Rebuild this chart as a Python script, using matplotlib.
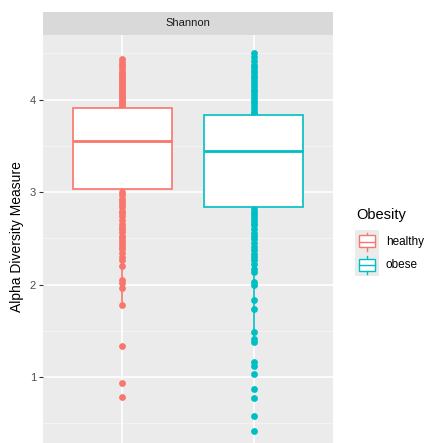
import matplotlib.pyplot as plt
from matplotlib.patches import Rectangle

# groups and colours
groups = ["healthy", "obese"]
colors = ["#F8766D", "#00BFC4"]

# box statistics (Shannon index)
q1 = [3.03, 2.84]
med = [3.555, 3.45]
q3 = [3.91, 3.83]
whislo = [1.78, 1.38]
whishi = [4.44, 4.51]

# individual samples
healthy_vals = [3.92, 3.94, 3.96, 3.98, 4.00, 4.02, 4.04, 4.06, 4.08, 4.10,
                4.12, 4.14, 4.16, 4.18, 4.20, 4.22, 4.24, 4.26, 4.28, 4.30,
                4.33, 4.36, 4.38, 4.41, 4.44,
                3.00, 2.97, 2.93, 2.90, 2.87, 2.84, 2.80, 2.77, 2.74, 2.70,
                2.66, 2.62, 2.60, 2.57, 2.53, 2.50, 2.47, 2.44, 2.41, 2.38,
                2.34, 2.30, 2.27, 2.20, 2.05, 2.02, 1.96, 1.78,
                1.34, 0.93, 0.78]
obese_vals = [3.85, 3.87, 3.90, 3.93, 3.96, 3.99, 4.02, 4.05, 4.08, 4.11,
              4.14, 4.17, 4.20, 4.23, 4.26, 4.29, 4.32, 4.35, 4.38, 4.42,
              4.46, 4.51,
              2.82, 2.79, 2.76, 2.73, 2.70, 2.67, 2.64, 2.60, 2.56, 2.52,
              2.49, 2.45, 2.41, 2.37, 2.33, 2.30, 2.26, 2.22, 2.17, 2.13,
              2.03, 2.00, 1.83, 1.74, 1.49, 1.41, 1.38,
              1.16, 1.12, 1.03, 0.87, 0.77, 0.58, 0.42]
values = [healthy_vals, obese_vals]

yticks = [1, 2, 3, 4]
minor_ticks = [0.5, 1.5, 2.5, 3.5, 4.5]

W, H = 424, 443
fig = plt.figure(figsize=(W / 100, H / 100), dpi=100)
plt.rcParams['font.family'] = ['Liberation Sans', 'DejaVu Sans']

# panel
ax = fig.add_axes([43 / W, 0, 290 / W, (H - 35) / H])
ax.set_facecolor("#EBEBEB")
for y in minor_ticks:
    ax.axhline(y, color="#F5F5F5", lw=0.6, zorder=0)
for y in yticks:
    ax.axhline(y, color="white", lw=1.2, zorder=0)
for x in [1, 2]:
    ax.axvline(x, color="white", lw=1.2, zorder=0)

for i, (vals, c) in enumerate(zip(values, colors)):
    ax.scatter([i + 1] * len(vals), vals, s=24, color=c, linewidths=0, zorder=2)

stats = []
for i in range(2):
    stats.append(dict(q1=q1[i], med=med[i], q3=q3[i],
                      whislo=whislo[i], whishi=whishi[i], fliers=[]))
bp = ax.bxp(stats, positions=[1, 2], widths=0.75, patch_artist=True,
            showcaps=False, showfliers=False, zorder=3)
for i, c in enumerate(colors):
    bp['boxes'][i].set(facecolor="white", edgecolor=c, linewidth=1.2)
    bp['medians'][i].set(color=c, linewidth=2.0)
    for w in bp['whiskers'][2 * i:2 * i + 2]:
        w.set(color=c, linewidth=1.2)

ax.set_xlim(0.4, 2.6)
ax.set_ylim(0.285, 4.70)
ax.set_yticks(yticks)
ax.set_xticks([])
ax.tick_params(axis='y', length=3, width=0.8, color="#333333",
               labelcolor="#4D4D4D", labelsize=8, pad=2)
for s in ax.spines.values():
    s.set_visible(False)

# facet strip
sax = fig.add_axes([43 / W, 1 - 35 / H, 290 / W, 23 / H])
sax.set_facecolor("#D9D9D9")
sax.set_xticks([])
sax.set_yticks([])
for s in sax.spines.values():
    s.set_visible(False)
sax.text(0.5, 0.5, "Shannon", ha="center", va="center", fontsize=8,
         color="#1A1A1A", transform=sax.transAxes)

fig.text(17 / W, 1 - 237 / H, "Alpha Diversity Measure", rotation=90,
         ha="center", va="center", fontsize=10, color="black")

# legend drawn by hand with boxplot keys
fig.text(356 / W, 1 - 215 / H, "Obesity", ha="left", va="center",
         fontsize=10.5, color="black")
lax = fig.add_axes([355 / W, 1 - 276 / H, 24 / W, 46 / H])
lax.set_xlim(0, 24)
lax.set_ylim(0, 46)
lax.set_facecolor("#EBEBEB")
lax.set_xticks([])
lax.set_yticks([])
for s in lax.spines.values():
    s.set_visible(False)
for i, (g, c) in enumerate(zip(groups, colors)):
    cy = 34.5 - i * 23
    lax.plot([12, 12], [cy - 9, cy + 9], color=c, lw=1.0)
    lax.add_patch(Rectangle((4, cy - 6), 16, 12, facecolor="white",
                            edgecolor=c, lw=1.0, zorder=3))
    lax.plot([4, 20], [cy, cy], color=c, lw=1.0, zorder=4)
    fig.text(386 / W, 1 - (242 + i * 23) / H, g, ha="left", va="center",
             fontsize=8.5, color="black")

fig.savefig("out.png", dpi=100)
